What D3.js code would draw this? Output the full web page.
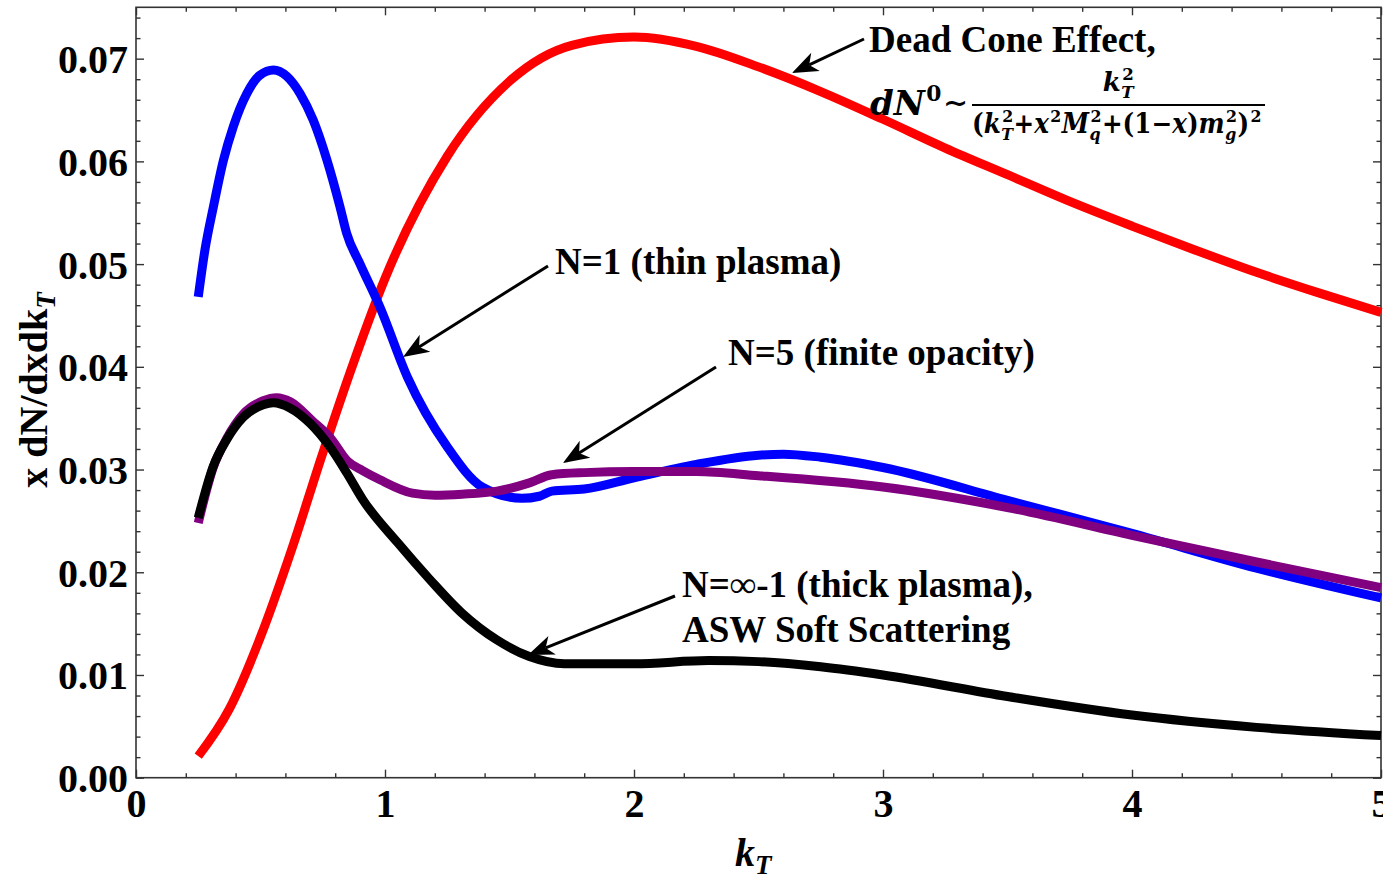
<!DOCTYPE html>
<html>
<head>
<meta charset="utf-8">
<script src="https://cdn.jsdelivr.net/npm/d3@7"></script>
<style>
  body { margin: 0; background: #fff; }
  svg { display: block; }
  text { font-family: "Liberation Serif", "Times New Roman", serif; font-weight: bold; fill: #000; }
</style>
</head>
<body>
<svg id="chart" width="1383" height="880"></svg>
<script>
// ---- data: gluon spectrum x dN/dx dk_T versus k_T ----
const deadConeK = [0.25, 0.375, 0.5, 0.625, 0.75, 0.875, 1.0, 1.25, 1.5, 1.75, 2.0, 2.25, 2.5, 2.75, 3.0, 3.25, 3.5, 3.75, 4.0, 4.25, 4.5, 4.75, 5.0];
const deadConeV = [0.0021, 0.0067, 0.0137, 0.0222, 0.0316, 0.0405, 0.0486, 0.0605, 0.0678, 0.0713, 0.0721, 0.0712, 0.0692, 0.0668, 0.0641, 0.0613, 0.0587, 0.0561, 0.0537, 0.0514, 0.0492, 0.0472, 0.0453];

const thinK = [0.25, 0.277, 0.311, 0.351, 0.391, 0.445, 0.498, 0.552, 0.605, 0.659, 0.712, 0.766, 0.819, 0.846, 0.90, 0.98, 1.09, 1.25, 1.39, 1.55, 1.62, 1.67, 1.8, 2.0, 2.25, 2.5, 2.6, 2.75, 3.0, 3.5, 4.0, 4.5, 5.0];
const thinV = [0.0468, 0.0514, 0.0556, 0.0601, 0.0634, 0.0666, 0.0684, 0.0689, 0.0683, 0.0666, 0.0640, 0.0602, 0.0556, 0.0530, 0.0500, 0.0458, 0.0390, 0.0322, 0.0283, 0.0272, 0.0274, 0.0279, 0.0281, 0.0292, 0.0305, 0.0314, 0.0315, 0.0312, 0.0302, 0.0270, 0.0238, 0.0204, 0.0175];

const finiteK = [0.25, 0.31, 0.364, 0.431, 0.511, 0.565, 0.62, 0.71, 0.78, 0.85, 0.91, 0.98, 1.11, 1.2, 1.31, 1.45, 1.58, 1.67, 1.8, 2.0, 2.25, 2.5, 3.0, 3.5, 4.0, 4.5, 5.0];
const finiteV = [0.0248, 0.0302, 0.0330, 0.0354, 0.0367, 0.0370, 0.0366, 0.0347, 0.0331, 0.0308, 0.0299, 0.0290, 0.0277, 0.0275, 0.0276, 0.0279, 0.0287, 0.0295, 0.0297, 0.0298, 0.0298, 0.0294, 0.0283, 0.0263, 0.0236, 0.0210, 0.0185];

const thickK = [0.25, 0.31, 0.364, 0.431, 0.511, 0.551, 0.618, 0.699, 0.779, 0.846, 0.91, 1.05, 1.18, 1.31, 1.45, 1.58, 1.72, 2.0, 2.3, 2.5, 2.75, 3.0, 3.5, 4.0, 4.5, 5.0];
const thickV = [0.0253, 0.0303, 0.0329, 0.0351, 0.0363, 0.0365, 0.0360, 0.0345, 0.0322, 0.0297, 0.0271, 0.0229, 0.0193, 0.0160, 0.0134, 0.0118, 0.0111, 0.0111, 0.0114, 0.0113, 0.0108, 0.0100, 0.0079, 0.0061, 0.0049, 0.0041];

const yTickValues = [0, 0.01, 0.02, 0.03, 0.04, 0.05, 0.06, 0.07];
const yTickLabels = ["0.00", "0.01", "0.02", "0.03", "0.04", "0.05", "0.06", "0.07"];
const xTickValues = [0, 1, 2, 3, 4, 5];
const xTickLabels = ["0", "1", "2", "3", "4", "5"];

// ---- layout ----
const svg = d3.select("#chart");
const plotL = 136, plotR = 1381, plotT = 7.3, plotB = 777.7;

const x = d3.scaleLinear().domain([0, 5]).range([plotL, plotR]);
const y = d3.scaleLinear().domain([0, 0.075]).range([plotB, plotT]);

const majorLen = 8, minorLen = 4.5;
const frameColor = "#333";

// minor ticks every 0.2 in k_T and 0.002 in the spectrum
const xMinor = d3.range(0, 5.0001, 0.2).filter(v => Math.abs(v - Math.round(v)) > 1e-6);
const yMinor = d3.range(0, 0.0751, 0.002).filter(v => Math.abs(v * 100 - Math.round(v * 100)) > 1e-6);

function styleAxis(g) {
  g.select(".domain").remove();
  g.selectAll(".tick line").attr("stroke", frameColor).attr("stroke-width", 1.4);
}
function styleLabels(g) {
  g.selectAll(".tick text").attr("fill", "#000")
    .style("font-size", "40px").style("font-family", "Liberation Serif, serif").style("font-weight", "bold");
}

// bottom axis (labelled)
svg.append("g").attr("transform", `translate(0,${plotB})`)
  .call(d3.axisBottom(x).tickValues(xTickValues).tickSizeInner(-majorLen).tickSizeOuter(0)
    .tickFormat((d, i) => xTickLabels[i]))
  .call(styleAxis).call(styleLabels)
  .call(g => g.selectAll(".tick text").attr("dy", null).attr("y", 39.5));
svg.append("g").attr("transform", `translate(0,${plotB})`)
  .call(d3.axisBottom(x).tickValues(xMinor).tickSizeInner(-minorLen).tickSizeOuter(0).tickFormat(""))
  .call(styleAxis);

// top axis (ticks only)
svg.append("g").attr("transform", `translate(0,${plotT})`)
  .call(d3.axisTop(x).tickValues(xTickValues).tickSizeInner(-majorLen).tickSizeOuter(0).tickFormat(""))
  .call(styleAxis);
svg.append("g").attr("transform", `translate(0,${plotT})`)
  .call(d3.axisTop(x).tickValues(xMinor).tickSizeInner(-minorLen).tickSizeOuter(0).tickFormat(""))
  .call(styleAxis);

// left axis (labelled)
svg.append("g").attr("transform", `translate(${plotL},0)`)
  .call(d3.axisLeft(y).tickValues(yTickValues).tickSizeInner(-majorLen).tickSizeOuter(0)
    .tickPadding(8).tickFormat((d, i) => yTickLabels[i]))
  .call(styleAxis).call(styleLabels)
  .call(g => g.selectAll(".tick text").attr("dy", "0.35em"));
svg.append("g").attr("transform", `translate(${plotL},0)`)
  .call(d3.axisLeft(y).tickValues(yMinor).tickSizeInner(-minorLen).tickSizeOuter(0).tickFormat(""))
  .call(styleAxis);

// right axis (ticks only)
svg.append("g").attr("transform", `translate(${plotR},0)`)
  .call(d3.axisRight(y).tickValues(yTickValues).tickSizeInner(-majorLen).tickSizeOuter(0).tickFormat(""))
  .call(styleAxis);
svg.append("g").attr("transform", `translate(${plotR},0)`)
  .call(d3.axisRight(y).tickValues(yMinor).tickSizeInner(-minorLen).tickSizeOuter(0).tickFormat(""))
  .call(styleAxis);

// frame
svg.append("rect").attr("x", plotL).attr("y", plotT)
  .attr("width", plotR - plotL).attr("height", plotB - plotT)
  .attr("fill", "none").attr("stroke", frameColor).attr("stroke-width", 1.6);

// ---- curves ----
const line = d3.line().x(d => x(d[0])).y(d => y(d[1])).curve(d3.curveMonotoneX);
const series = [
  { k: deadConeK, v: deadConeV, color: "#ff0000" },
  { k: thinK, v: thinV, color: "#0000ff" },
  { k: finiteK, v: finiteV, color: "#800080" },
  { k: thickK, v: thickV, color: "#000000" }
];
series.forEach(s => {
  svg.append("path")
    .datum(s.k.map((k, i) => [k, s.v[i]]))
    .attr("d", line)
    .attr("fill", "none")
    .attr("stroke", s.color)
    .attr("stroke-width", 9)
    .attr("stroke-linejoin", "round")
    .attr("stroke-linecap", "butt");
});

// ---- axis titles ----
const xt = svg.append("text").attr("x", 735).attr("y", 866).style("font-size", "40px");
xt.append("tspan").style("font-style", "italic").text("k");
xt.append("tspan").style("font-style", "italic").style("font-size", "27px").attr("dy", 8).text("T");

const yt = svg.append("text").attr("transform", "translate(47,390) rotate(-90)")
  .attr("text-anchor", "middle").style("font-size", "40px");
yt.append("tspan").text("x dN/dxdk");
yt.append("tspan").style("font-style", "italic").style("font-size", "27px").attr("dy", 8).text("T");

// ---- annotations ----
function arrow(x1, y1, x2, y2) {
  const ang = Math.atan2(y2 - y1, x2 - x1);
  const L = 26, W = 10, notch = 19;
  const ux = Math.cos(ang), uy = Math.sin(ang), px = -uy, py = ux;
  svg.append("line").attr("x1", x1).attr("y1", y1)
    .attr("x2", x2 - ux * notch).attr("y2", y2 - uy * notch)
    .attr("stroke", "#000").attr("stroke-width", 3);
  const pts = [
    [x2, y2],
    [x2 - ux * L + px * W, y2 - uy * L + py * W],
    [x2 - ux * notch, y2 - uy * notch],
    [x2 - ux * L - px * W, y2 - uy * L - py * W]
  ];
  svg.append("polygon").attr("points", pts.map(p => p.join(",")).join(" ")).attr("fill", "#000");
}

function label(xp, yp, txt, size) {
  svg.append("text").attr("x", xp).attr("y", yp).style("font-size", size + "px").text(txt);
}

label(869, 52, "Dead Cone Effect,", 37);
arrow(864, 39, 792, 73);

label(555, 274, "N=1 (thin plasma)", 37);
arrow(548, 266, 403, 357);

label(728, 365, "N=5 (finite opacity)", 37);
arrow(716, 367, 563, 463);

label(682, 597, "N=\u221E-1 (thick plasma),", 37);
label(682, 642, "ASW Soft Scattering", 37);
arrow(675, 596, 528, 655);

// ---- formula: dN^0 ~ k_T^2 / (k_T^2 + x^2 M_q^2 + (1-x) m_g^2)^2 ----
const mathFont = "DejaVu Serif, serif";
function mathRun(g, tokens, size, x0, base) {
  let cx = x0;
  const put = (xp, yp, fs, it, txt) => g.append("text").attr("x", xp).attr("y", yp)
    .style("font-family", mathFont).style("font-size", fs + "px")
    .style("font-style", it ? "italic" : "normal").text(txt);
  tokens.forEach(tk => {
    const fs = tk.size || size;
    const t = put(cx + (tk.pad || 0) / 2, base + (tk.dy || 0), fs, tk.it, tk.t);
    const w = t.node().getComputedTextLength() + (tk.pad || 0);
    let sw = 0;
    const ss = size * 0.64;
    if (tk.sub) {
      const s = put(cx + w + 0.5, base + size * 0.26, ss, true, tk.sub);
      sw = Math.max(sw, s.node().getComputedTextLength() + 1);
    }
    if (tk.sup) {
      const s = put(cx + w + 1.5, base - size * 0.42, ss, false, tk.sup);
      sw = Math.max(sw, s.node().getComputedTextLength() + 2);
    }
    cx += w + sw;
  });
  return cx - x0;
}

const formula = svg.append("g");
mathRun(formula, [
  { t: "dN", it: true, sup: "0" },
  { t: "\u223C", pad: 2, size: 30, dy: -2 }
], 34, 870, 115);

const fracL = 972, fracR = 1265, barY = 105;
const den = formula.append("g");
const denW = mathRun(den, [
  { t: "(" },
  { t: "k", it: true, sub: "T", sup: "2" },
  { t: "+" },
  { t: "x", it: true, sup: "2" },
  { t: "M", it: true, sub: "q", sup: "2" },
  { t: "+(1\u2212" },
  { t: "x", it: true },
  { t: ")" },
  { t: "m", it: true, sub: "g", sup: "2" },
  { t: ")", sup: "2" }
], 27, 0, 0);
den.attr("transform", `translate(${fracL},${133}) scale(${(fracR - fracL - 3) / denW},1)`);

const num = formula.append("g");
const numW = mathRun(num, [{ t: "k", it: true, sub: "T", sup: "2" }], 26, 0, 0);
num.attr("transform", `translate(${(fracL + fracR) / 2 - numW / 2},${91})`);

formula.append("line").attr("x1", fracL).attr("x2", fracR)
  .attr("y1", barY).attr("y2", barY).attr("stroke", "#000").attr("stroke-width", 2);
</script>
</body>
</html>
